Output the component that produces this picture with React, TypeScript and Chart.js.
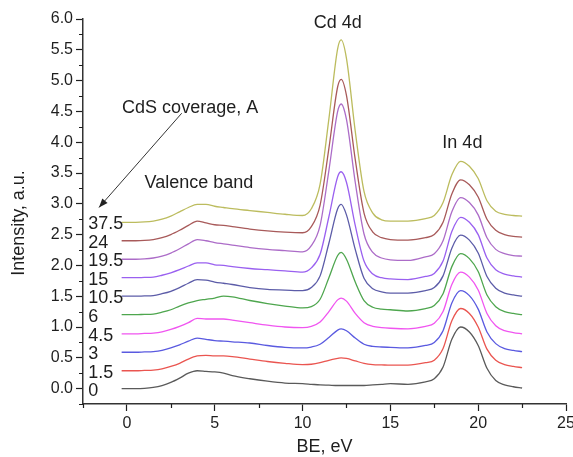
import React, { useEffect, useRef } from "react";
import { Chart, registerables } from "chart.js";

Chart.register(...registerables);

const FONT = "'Liberation Sans', Arial, Helvetica, sans-serif";
const INK = "#1e1e1e";

// binding energy grid (eV)
const BE = [
  -0.3, 0.5, 1.0, 1.5, 2.0, 2.5, 3.0, 3.5, 4.0, 4.5,
  5.0, 5.5, 6.0, 7.0, 8.0, 9.0, 10.0, 10.5, 11.0, 11.5,
  12.0, 12.2, 12.5, 13.0, 13.5, 14.0, 14.5, 15.0, 16.0, 17.0,
  17.5, 18.0, 18.5, 19.0, 19.5, 20.0, 20.5, 21.0, 21.5, 22.0,
  22.5,
];

// CdS coverage labels (A)
const COVERAGE = ["0", "1.5", "3", "4.5", "6", "10.5", "15", "19.5", "24", "37.5"];

// intensities as plotted (a.u., with waterfall offset)
const S0 = [
  0.0, 0.0, 0.005, 0.02, 0.05, 0.1, 0.17, 0.25, 0.29, 0.28,
  0.27, 0.25, 0.21, 0.16, 0.12, 0.09, 0.08, 0.07, 0.06, 0.055,
  0.05, 0.05, 0.05, 0.05, 0.05, 0.06, 0.07, 0.08, 0.07, 0.11,
  0.16, 0.35, 0.8, 1.0, 0.92, 0.7, 0.33, 0.13, 0.06, 0.03,
  0.01,
];
const S1_5 = [
  0.29, 0.29, 0.295, 0.3, 0.32, 0.36, 0.41, 0.48, 0.53, 0.54,
  0.53, 0.53, 0.52, 0.48, 0.44, 0.41, 0.39, 0.395, 0.42, 0.46,
  0.49, 0.5, 0.49, 0.45, 0.41, 0.39, 0.385, 0.38, 0.38, 0.42,
  0.46, 0.65, 1.1, 1.3, 1.22, 1.0, 0.64, 0.46, 0.39, 0.36,
  0.34,
];
const S3 = [
  0.59, 0.59, 0.595, 0.6, 0.62, 0.66, 0.71, 0.77, 0.82, 0.8,
  0.78, 0.77, 0.76, 0.74, 0.7, 0.67, 0.66, 0.675, 0.72, 0.83,
  0.95, 0.97, 0.94, 0.82, 0.72, 0.685, 0.675, 0.67, 0.66, 0.7,
  0.75, 0.94, 1.39, 1.59, 1.51, 1.29, 0.92, 0.73, 0.65, 0.62,
  0.6,
];
const S4_5 = [
  0.89, 0.89, 0.895, 0.9, 0.92, 0.96, 1.01, 1.07, 1.14, 1.13,
  1.13, 1.13, 1.11, 1.07, 1.03, 1.0, 0.99, 1.01, 1.08, 1.25,
  1.44, 1.47, 1.42, 1.22, 1.07, 1.01, 0.99, 0.98, 0.97, 1.01,
  1.06, 1.25, 1.69, 1.89, 1.81, 1.6, 1.22, 1.02, 0.94, 0.91,
  0.89,
];
const S6 = [
  1.2, 1.2, 1.205, 1.21, 1.24, 1.28, 1.34, 1.39, 1.43, 1.45,
  1.47, 1.5, 1.49, 1.43, 1.38, 1.34, 1.31, 1.33, 1.45, 1.8,
  2.16, 2.21, 2.1, 1.73, 1.43, 1.32, 1.29, 1.28, 1.26, 1.3,
  1.35, 1.54, 1.98, 2.19, 2.11, 1.9, 1.52, 1.33, 1.25, 1.22,
  1.2,
];
const S10_5 = [
  1.5, 1.5, 1.505, 1.51, 1.54, 1.58, 1.64, 1.71, 1.77, 1.76,
  1.73, 1.71, 1.69, 1.64, 1.61, 1.6, 1.59, 1.64, 1.83, 2.36,
  2.92, 2.99, 2.82, 2.26, 1.79, 1.62, 1.57, 1.55, 1.55, 1.59,
  1.64, 1.83, 2.28, 2.49, 2.41, 2.2, 1.82, 1.63, 1.55, 1.52,
  1.5,
];
const S15 = [
  1.8, 1.8, 1.805, 1.81, 1.84, 1.88, 1.93, 1.99, 2.04, 2.04,
  2.01, 2.0, 1.98, 1.95, 1.93, 1.91, 1.89, 1.96, 2.18, 2.79,
  3.44, 3.52, 3.35, 2.65, 2.07, 1.86, 1.8, 1.78, 1.77, 1.82,
  1.87, 2.07, 2.55, 2.78, 2.7, 2.5, 2.12, 1.93, 1.86, 1.83,
  1.81,
];
const S19_5 = [
  2.1, 2.1, 2.105, 2.12, 2.15, 2.2, 2.27, 2.35, 2.42, 2.4,
  2.37, 2.35, 2.33, 2.29, 2.26, 2.24, 2.22, 2.32, 2.65, 3.54,
  4.5, 4.62, 4.37, 3.35, 2.51, 2.21, 2.12, 2.09, 2.08, 2.14,
  2.19, 2.4, 2.87, 3.1, 3.02, 2.82, 2.45, 2.26, 2.19, 2.16,
  2.15,
];
const S24 = [
  2.4, 2.4, 2.405, 2.42, 2.45, 2.5, 2.57, 2.65, 2.72, 2.69,
  2.66, 2.65, 2.63, 2.59, 2.56, 2.54, 2.53, 2.63, 2.98, 3.9,
  4.9, 5.02, 4.76, 3.72, 2.85, 2.54, 2.45, 2.42, 2.41, 2.45,
  2.5, 2.7, 3.16, 3.39, 3.31, 3.11, 2.75, 2.57, 2.5, 2.47,
  2.46,
];
const S37_5 = [
  2.7, 2.7, 2.705, 2.72, 2.75, 2.8, 2.87, 2.94, 2.99, 2.99,
  2.96, 2.94, 2.92, 2.89, 2.86, 2.83, 2.81, 2.92, 3.32, 4.38,
  5.52, 5.66, 5.36, 4.18, 3.2, 2.85, 2.74, 2.72, 2.72, 2.76,
  2.81, 3.02, 3.47, 3.69, 3.61, 3.41, 3.05, 2.88, 2.83, 2.81,
  2.8,
];

const SERIES = [S0, S1_5, S3, S4_5, S6, S10_5, S15, S19_5, S24, S37_5];

const COLORS = [
  "#5a5a5a", "#ea5550", "#5a5ae0", "#f055f0", "#4ea64e",
  "#5c5ca8", "#9a60f0", "#ac6cc8", "#a85a5a", "#bcbc5e",
];

const X_MIN = -2.5, X_MAX = 25, Y_MIN = -0.25, Y_MAX = 6.0;

const isMult = (v: number, m: number) => Math.abs(v / m - Math.round(v / m)) < 1e-6;

const overlay = {
  id: "overlay",
  afterDraw(chart: any) {
    const { ctx, chartArea } = chart;
    const x = chart.scales.x;
    const y = chart.scales.y;
    ctx.save();
    // minor ticks
    ctx.strokeStyle = INK;
    ctx.lineWidth = 1.2;
    ctx.beginPath();
    for (const t of x.ticks) {
      if (isMult(t.value, 5)) continue;
      const px = Math.round(x.getPixelForValue(t.value)) + 0.5;
      ctx.moveTo(px, chartArea.bottom);
      ctx.lineTo(px, chartArea.bottom + 4);
    }
    for (const t of y.ticks) {
      if (isMult(t.value, 0.5)) continue;
      const py = Math.round(y.getPixelForValue(t.value)) + 0.5;
      ctx.moveTo(chartArea.left, py);
      ctx.lineTo(chartArea.left - 4, py);
    }
    ctx.stroke();

    // axis titles
    ctx.fillStyle = INK;
    ctx.font = `18px ${FONT}`;
    ctx.textAlign = "center";
    ctx.textBaseline = "middle";
    ctx.fillText("BE, eV", (chartArea.left + chartArea.right) / 2, 447);
    ctx.save();
    ctx.translate(19, 223);
    ctx.rotate(-Math.PI / 2);
    ctx.fillText("Intensity, a.u.", 0, 0);
    ctx.restore();

    // peak annotations
    ctx.fillText("Cd 4d", x.getPixelForValue(12.0), y.getPixelForValue(5.93));
    ctx.fillText("In 4d", x.getPixelForValue(19.1), y.getPixelForValue(3.98));
    ctx.fillText("Valence band", x.getPixelForValue(4.1), y.getPixelForValue(3.33));
    ctx.fillText("CdS coverage, A", x.getPixelForValue(3.6), y.getPixelForValue(4.55));

    // arrow
    const ax1 = x.getPixelForValue(3.12), ay1 = y.getPixelForValue(4.47);
    const ax2 = x.getPixelForValue(-1.59), ay2 = y.getPixelForValue(2.94);
    ctx.strokeStyle = "#333";
    ctx.lineWidth = 1;
    ctx.beginPath();
    ctx.moveTo(ax1, ay1);
    ctx.lineTo(ax2, ay2);
    ctx.stroke();
    const ang = Math.atan2(ay2 - ay1, ax2 - ax1);
    const hl = 9, hw = 3.5;
    ctx.fillStyle = "#222";
    ctx.beginPath();
    ctx.moveTo(ax2, ay2);
    ctx.lineTo(ax2 - hl * Math.cos(ang) + hw * Math.sin(ang), ay2 - hl * Math.sin(ang) - hw * Math.cos(ang));
    ctx.lineTo(ax2 - hl * Math.cos(ang) - hw * Math.sin(ang), ay2 - hl * Math.sin(ang) + hw * Math.cos(ang));
    ctx.closePath();
    ctx.fill();

    // coverage labels at each curve's start level
    ctx.fillStyle = INK;
    ctx.font = `18px ${FONT}`;
    ctx.textAlign = "left";
    ctx.textBaseline = "middle";
    SERIES.forEach((s, i) => {
      ctx.fillText(COVERAGE[i], x.getPixelForValue(-2.2), y.getPixelForValue(s[0]) + 2);
    });
    ctx.restore();
  },
};

export default function App() {
  const ref = useRef<HTMLCanvasElement | null>(null);
  useEffect(() => {
    if (!ref.current) return;
    Chart.defaults.font.family = FONT;
    const chart = new Chart(ref.current, {
      type: "line",
      data: {
        datasets: SERIES.map((s, i) => ({
          label: COVERAGE[i],
          data: BE.map((b, j) => ({ x: b, y: s[j] })),
          borderColor: COLORS[i],
          backgroundColor: COLORS[i],
          borderWidth: 1.3,
          pointRadius: 0,
          cubicInterpolationMode: "monotone" as const,
          fill: false,
        })),
      },
      options: {
        animation: false,
        responsive: true,
        maintainAspectRatio: false,
        layout: { padding: { top: 19, right: 7, left: 0, bottom: 0 } },
        plugins: { legend: { display: false }, tooltip: { enabled: false } },
        scales: {
          x: {
            type: "linear",
            min: X_MIN,
            max: X_MAX,
            ticks: {
              stepSize: 2.5,
              autoSkip: false,
              maxRotation: 0,
              padding: 3,
              color: INK,
              font: { size: 16, family: FONT },
              callback: (v: any) => (isMult(Number(v), 5) ? String(Math.round(Number(v))) : ""),
            },
            grid: {
              drawOnChartArea: false,
              drawTicks: true,
              tickLength: 7,
              tickWidth: 1.2,
              tickColor: (c: any) => (c.tick && isMult(c.tick.value, 5) ? INK : "rgba(0,0,0,0)"),
            },
            border: { display: true, color: "#333", width: 1.5 },
            afterFit: (s: any) => {
              s.height = 53;
              s.paddingRight = 0;
            },
          },
          y: {
            type: "linear",
            min: Y_MIN,
            max: Y_MAX,
            ticks: {
              stepSize: 0.25,
              autoSkip: false,
              padding: 3,
              color: INK,
              font: { size: 16, family: FONT },
              callback: (v: any) => (isMult(Number(v), 0.5) ? Number(v).toFixed(1) : ""),
            },
            grid: {
              drawOnChartArea: false,
              drawTicks: true,
              tickLength: 7,
              tickWidth: 1.2,
              tickColor: (c: any) => (c.tick && isMult(c.tick.value, 0.5) ? INK : "rgba(0,0,0,0)"),
            },
            border: { display: true, color: "#333", width: 1.5 },
            afterFit: (s: any) => {
              s.width = 83;
            },
          },
        },
      },
      plugins: [overlay],
    });
    return () => chart.destroy();
  }, []);
  return (
    <div style={{ position: "fixed", left: 0, top: 0, width: 573, height: 457, background: "#fff" }}>
      <canvas ref={ref} />
    </div>
  );
}
